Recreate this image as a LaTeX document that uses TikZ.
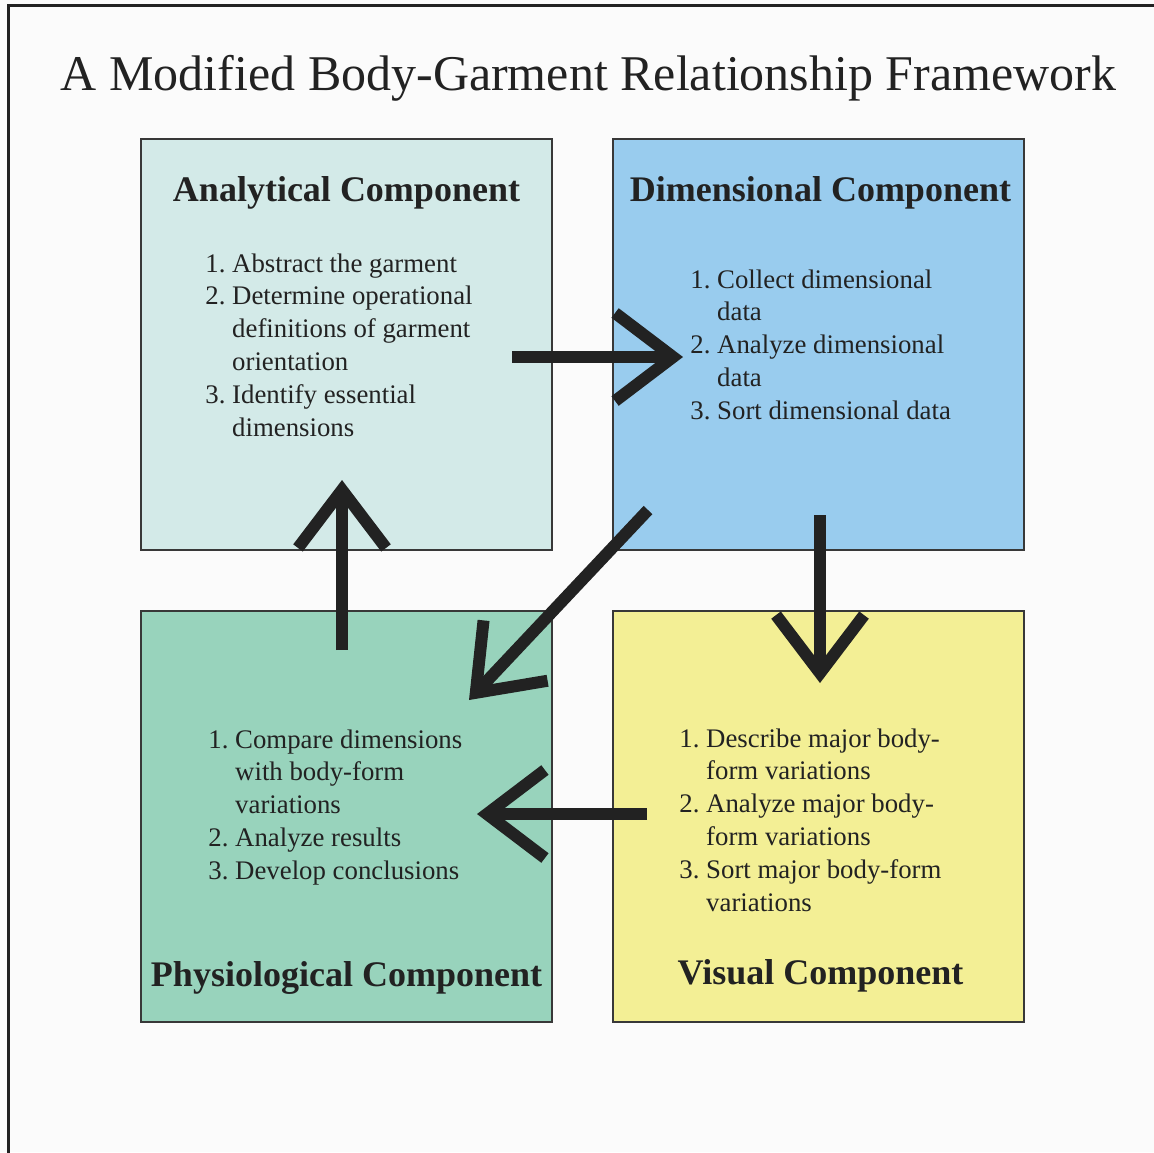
\documentclass[tikz,border=0pt]{standalone}
\usepackage{fontspec}
\setmainfont{Liberation Serif}
\usetikzlibrary{arrows.meta}

\definecolor{inchiostro}{HTML}{222222}
\definecolor{sfondo}{HTML}{FBFBFB}
\definecolor{anafill}{HTML}{D3EAE8}
\definecolor{dimfill}{HTML}{99CCEE}
\definecolor{phyfill}{HTML}{98D3BC}
\definecolor{visfill}{HTML}{F3EF95}

% elenco numerato con rientro sospeso
\newcommand{\passi}[1]{{\fontsize{13.4}{16.4}\selectfont
  \begin{tabular}[t]{@{}r@{\ }l@{}}#1\end{tabular}}}

\begin{document}
\begin{tikzpicture}[x=0.5pt, y=-0.5pt,
    riquadro/.style={draw=inchiostro!90, line width=1pt, minimum width=205.5pt,
      minimum height=205.5pt, inner sep=0pt},
    titolo/.style={anchor=base, inner sep=0pt, text=inchiostro,
      font=\bfseries\fontsize{18}{20}\selectfont},
    voce/.style={anchor=base west, inner sep=0pt, text=inchiostro},
    freccia/.style={draw=inchiostro, line width=6pt,
      -{Straight Barb[length=29pt, width=44pt]}}]

    % Sfondo e cornice
    \fill[sfondo] (0,0) rectangle (1154,1152);
    \useasboundingbox (0,0) rectangle (1154,1152);
    \draw[inchiostro, line width=1.5pt] (8.5,1160) -- (8.5,5.5) -- (1160,5.5);

    % Titolo
    \node[anchor=base, inner sep=0pt, text=inchiostro, font=\fontsize{25}{28}\selectfont]
        (Titolo) at (588.5,90) {A Modified Body-Garment Relationship Framework};

    % Riquadri
    \node[riquadro, fill=anafill] (Ana) at (346.5,344.5) {};
    \node[riquadro, fill=dimfill] (Dim) at (818.5,344.5) {};
    \node[riquadro, fill=phyfill] (Phy) at (346.5,816.5) {};
    \node[riquadro, fill=visfill] (Vis) at (818.5,816.5) {};

    % Intestazioni
    \node[titolo] (AnaT) at (346.5,201) {Analytical Component};
    \node[titolo] (DimT) at (820.5,201) {Dimensional Component};
    \node[titolo] (PhyT) at (346.5,986) {Physiological Component};
    \node[titolo] (VisT) at (820.5,984) {Visual Component};

    % Elenchi
    \node[voce] (AnaL) at (205,272) {\passi{1.&Abstract the garment\\
        2.&Determine operational\\ &definitions of garment\\ &orientation\\
        3.&Identify essential\\ &dimensions}};
    \node[voce] (DimL) at (690,288) {\passi{1.&Collect dimensional\\ &data\\
        2.&Analyze dimensional\\ &data\\ 3.&Sort dimensional data}};
    \node[voce] (PhyL) at (208,748) {\passi{1.&Compare dimensions\\
        &with body-form\\ &variations\\ 2.&Analyze results\\
        3.&Develop conclusions}};
    \node[voce] (VisL) at (679,747) {\passi{1.&Describe major body-\\
        &form variations\\ 2.&Analyze major body-\\ &form variations\\
        3.&Sort major body-form\\ &variations}};

    % Frecce
    \coordinate (AD1) at (512,357);
    \coordinate (AD2) at (683,357);
    \coordinate (DV1) at (820,515);
    \coordinate (DV2) at (820,683);
    \coordinate (PA1) at (342,650);
    \coordinate (PA2) at (342,480);
    \coordinate (VP1) at (647,814);
    \coordinate (VP2) at (477,814);
    \coordinate (DP1) at (648,510);
    \coordinate (DP2) at (469,700);
    \draw[freccia] (AD1) -- (AD2);
    \draw[freccia] (DV1) -- (DV2);
    \draw[freccia] (PA1) -- (PA2);
    \draw[freccia] (VP1) -- (VP2);
    \draw[freccia] (DP1) -- (DP2);

\end{tikzpicture}
\end{document}
